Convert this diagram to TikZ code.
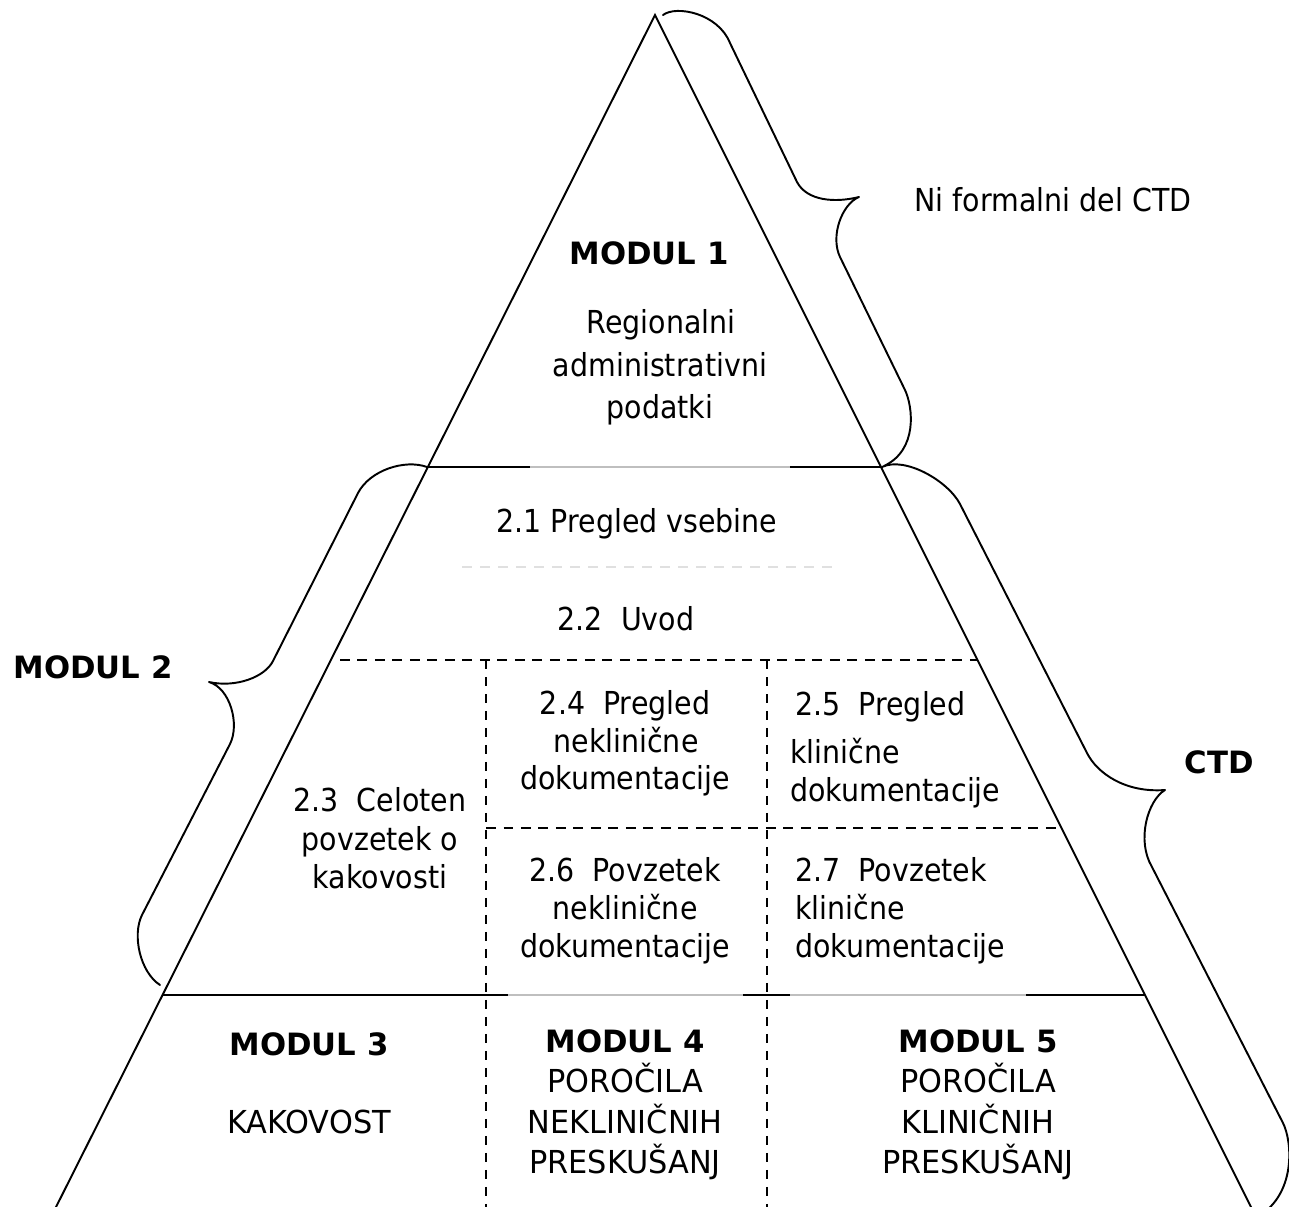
\documentclass[tikz,border=0pt]{standalone}
\usepackage{fontspec}
\setmainfont{DejaVu Sans}
\newfontfamily\regf{DejaVu Sans}[FakeStretch=0.9]
\newfontfamily\capf{DejaVu Sans}[FakeStretch=0.96]
\begin{document}
\begin{tikzpicture}[x=0.02cm,y=-0.02cm,
  main/.style={line width=1.1pt,black},
  faint/.style={line width=0.6pt,black!25},
  dashA/.style={line width=0.9pt,dash pattern=on 0.2cm off 0.15cm},
  dashB/.style={line width=0.7pt,dash pattern=on 0.18cm off 0.16cm},
  faintdash/.style={line width=0.6pt,black!12,dash pattern=on 0.2cm off 0.16cm},
  brace/.style={line width=1.1pt,line join=round,line cap=round},
  txt/.style={font=\regf\fontsize{18}{21}\selectfont,inner sep=0pt,anchor=base},
  txtw/.style={txt,anchor=base west},
  capt/.style={font=\capf\fontsize{18}{21}\selectfont,inner sep=0pt,anchor=base},
  bld/.style={font=\bfseries\fontsize{17.5}{21}\selectfont,inner sep=0pt,anchor=base}]
\useasboundingbox (0,0) rectangle (1289,1207);
\clip (0,0) rectangle (1289,1207);

% pyramid
\coordinate (apex) at (655,15);
\coordinate (lb) at (52,1215);
\coordinate (rb) at (1255,1215);
\draw[main,line join=miter] (lb) -- (apex) -- (rb);

% level lines
\draw[main] (428,467) -- (530,467);
\draw[faint] (530,467) -- (790,467);
\draw[main] (790,467) -- (881,467);
\draw[faintdash] (462,567) -- (838,567);
\draw[dashA] (340,660) -- (977,660);
\draw[dashA] (486,828) -- (1058,828);
\draw[dashB] (486,660) -- (486,1215);
\draw[dashB] (767,660) -- (767,1215);
\draw[main] (163,995) -- (508,995);
\draw[faint] (508,995) -- (743,995);
\draw[main] (743,995) -- (790,995);
\draw[faint] (790,995) -- (1026,995);
\draw[main] (1026,995) -- (1145,995);

% top brace
\draw[brace] (663,15) .. controls (676,5) and (718,13) .. (730,43)
  -- (797,182) .. controls (807,201) and (835,203) .. (859,197)
  .. controls (842,204) and (830,236) .. (840,257)
  -- (905,390) .. controls (913,407) and (918,450) .. (884,466);

% left brace (MODUL 2)
\draw[brace] (427,467) .. controls (405,459) and (370,470) .. (358,493)
  -- (273,661) .. controls (265,677) and (236,688) .. (209,682)
  .. controls (230,688) and (240,724) .. (230,744)
  -- (142,915) .. controls (132,935) and (140,972) .. (160,985);

% right brace (CTD)
\draw[brace] (882,467) .. controls (905,456) and (948,481) .. (960,504)
  -- (1087,753) .. controls (1097,773) and (1125,793) .. (1165,790)
  .. controls (1148,800) and (1136,840) .. (1152,867)
  -- (1283,1123) .. controls (1292,1141) and (1296,1190) .. (1262,1214);

% texts
\node[txt] (ni) at (1053,211) {Ni formalni del CTD};
\node[bld] (m1) at (649,264) {MODUL 1};
\node[txt] (m1a) at (661,333) {Regionalni};
\node[txt] (m1b) at (660,376) {administrativni};
\node[txt] (m1c) at (660,418) {podatki};

\node[txt] (s21) at (637,532) {2.1 Pregled vsebine};
\node[txt] (s22) at (626,630) {2.2~~Uvod};
\node[bld] (m2) at (93,678) {MODUL 2};

\node[txt] (s24a) at (625,714) {2.4~~Pregled};
\node[txt] (s24b) at (626,752) {neklinične};
\node[txt] (s24c) at (625,789) {dokumentacije};

\node[txtw] (s25a) at (795,715) {2.5~~Pregled};
\node[txtw] (s25b) at (790,763) {klinične};
\node[txtw] (s25c) at (790,801) {dokumentacije};

\node[bld] (ctd) at (1219,773) {CTD};

\node[txt] (s23a) at (380,811) {2.3~~Celoten};
\node[txt] (s23b) at (380,850) {povzetek o};
\node[txt] (s23c) at (380,888) {kakovosti};

\node[txt] (s26a) at (625,881) {2.6~~Povzetek};
\node[txt] (s26b) at (625,919) {neklinične};
\node[txt] (s26c) at (625,957) {dokumentacije};

\node[txtw] (s27a) at (795,881) {2.7~~Povzetek};
\node[txtw] (s27b) at (795,919) {klinične};
\node[txtw] (s27c) at (795,957) {dokumentacije};

\node[bld] (m3) at (309,1055) {MODUL 3};
\node[capt] (m3a) at (309,1133) {KAKOVOST};

\node[bld] (m4) at (625,1052) {MODUL 4};
\node[capt] (m4a) at (625,1092) {POROČILA};
\node[capt] (m4b) at (625,1133) {NEKLINIČNIH};
\node[capt] (m4c) at (625,1173) {PRESKUŠANJ};

\node[bld] (m5) at (978,1052) {MODUL 5};
\node[capt] (m5a) at (978,1092) {POROČILA};
\node[capt] (m5b) at (978,1133) {KLINIČNIH};
\node[capt] (m5c) at (978,1173) {PRESKUŠANJ};
\end{tikzpicture}
\end{document}
